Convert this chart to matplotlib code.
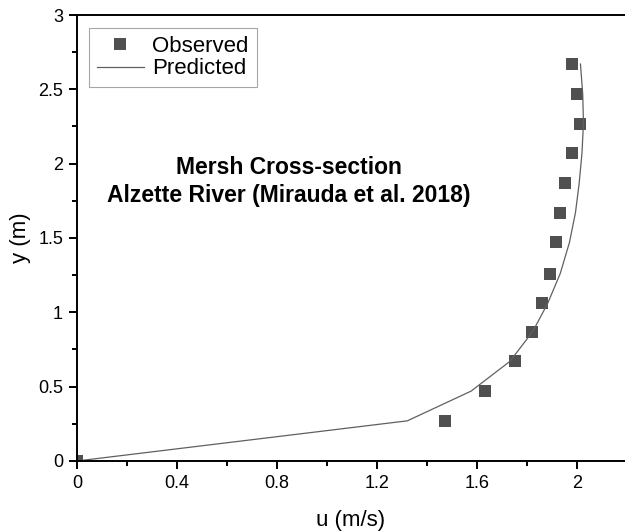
import numpy as np
import matplotlib.pyplot as plt
from matplotlib.ticker import MultipleLocator

plt.rcParams['font.family'] = ['Liberation Sans', 'DejaVu Sans']

# --- données ---
y_obs = [0.0, 0.27, 0.47, 0.67, 0.87, 1.06, 1.26, 1.47, 1.67, 1.87, 2.07, 2.27, 2.47, 2.67]
u_obs = [0.0, 1.47, 1.63, 1.75, 1.82, 1.86, 1.89, 1.915, 1.93, 1.95, 1.98, 2.01, 2.0, 1.98]

y_pred = [0.0, 0.27, 0.47, 0.67, 0.87, 1.06, 1.26, 1.47, 1.67, 1.87, 2.07, 2.27, 2.47, 2.67]
u_pred = [0.0, 1.32, 1.575, 1.73, 1.821, 1.881, 1.931, 1.968, 1.992, 2.007, 2.018, 2.024, 2.021, 2.012]

fig = plt.figure(figsize=(6.25, 5.32), dpi=100)
ax = fig.add_axes([0.1232, 0.1335, 0.8768, 0.8383])

ax.plot(u_obs, y_obs, 's', color='#505050', ms=8, mew=0, label='Observed')
ax.plot(u_pred, y_pred, '-', color='#606060', lw=0.9, label='Predicted')

ax.set_xlim(0, 2.19)
ax.set_ylim(0, 3)
ax.xaxis.set_major_locator(MultipleLocator(0.4))
ax.xaxis.set_minor_locator(MultipleLocator(0.2))
ax.yaxis.set_major_locator(MultipleLocator(0.5))
ax.yaxis.set_minor_locator(MultipleLocator(0.25))
ax.xaxis.set_major_formatter(plt.FuncFormatter(lambda v, p: f"{v:g}"))
ax.yaxis.set_major_formatter(plt.FuncFormatter(lambda v, p: f"{v:g}"))

ax.tick_params(which='both', direction='out', width=1.4, labelsize=13, colors='black')
ax.tick_params(which='major', length=6, pad=4)
ax.tick_params(which='minor', length=3.5)
for s in ['left', 'bottom', 'top']:
    ax.spines[s].set_linewidth(1.4)
ax.spines['right'].set_visible(False)

ax.set_xlabel('u (m/s)', fontsize=16, labelpad=13)
ax.set_ylabel('y (m)', fontsize=16, labelpad=5)

ax.text(0.846, 1.88, 'Mersh Cross-section\nAlzette River (Mirauda et al. 2018)',
        ha='center', va='center', fontsize=16.5, fontweight='bold', linespacing=1.3)

leg = ax.legend(loc='upper left', bbox_to_anchor=(0.022, 0.971), fontsize=16,
                frameon=True, fancybox=False, edgecolor='#909090',
                handlelength=2.1, handletextpad=0.4, borderpad=0.35,
                labelspacing=0.08, borderaxespad=0)
leg.get_frame().set_linewidth(0.8)

fig.savefig('out.png', dpi=100)
